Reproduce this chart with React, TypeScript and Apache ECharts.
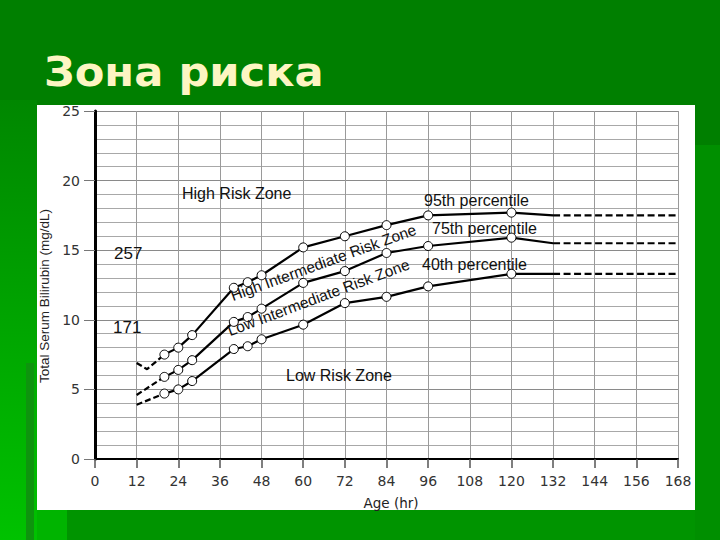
import React, { useEffect, useRef } from "react";
import * as echarts from "echarts";

// ---- data ----
const ageHours = [20, 24, 28, 40, 44, 48, 60, 72, 84, 96, 120];
const p95Values = [7.5, 8.0, 8.9, 12.3, 12.7, 13.2, 15.2, 16.0, 16.8, 17.5, 17.7];
const p75Values = [5.9, 6.4, 7.1, 9.85, 10.2, 10.8, 12.65, 13.5, 14.8, 15.3, 15.9];
const p40Values = [4.7, 5.0, 5.6, 7.9, 8.1, 8.6, 9.65, 11.2, 11.65, 12.4, 13.3];

const p95LeadHours = [12, 15, 20];
const p95LeadValues = [6.9, 6.45, 7.5];
const p75LeadHours = [12, 20];
const p75LeadValues = [4.6, 5.9];
const p40LeadHours = [12, 20];
const p40LeadValues = [3.9, 4.7];

const tailHours = [132, 168];
const p95TailValues = [17.5, 17.5];
const p75TailValues = [15.5, 15.5];
const p40TailValues = [13.3, 13.3];

const xMin = 0, xMax = 168, xStep = 12;
const yMin = 0, yMax = 25, yStep = 5;

const titleText = "Зона риска";
const yTitle = "Total Serum Bilirubin (mg/dL)";
const xTitle = "Age (hr)";

const GRID = { left: 95, right: 42, top: 111, bottom: 81 };

function pairs(h: number[], v: number[]) {
  return h.map((x, i) => [x, v[i]]);
}

function percentileSeries(name: string, vals: number[], leadH: number[], leadV: number[], tailV: number[]) {
  const lineStyle = { color: "#000", width: 2.2 };
  const solid = pairs(ageHours, vals).map((p) => ({ value: p }));
  (solid as any[]).push({ value: [tailHours[0], tailV[0]], symbol: "none" });
  return [
    {
      name: name + " lead",
      type: "line",
      data: pairs(leadH, leadV),
      showSymbol: false,
      symbol: "none",
      lineStyle: { ...lineStyle, type: [6, 3] },
      z: 3,
    },
    {
      name,
      type: "line",
      data: solid,
      symbol: "circle",
      symbolSize: 9,
      itemStyle: { color: "#fff", borderColor: "#000", borderWidth: 1 },
      lineStyle,
      z: 4,
    },
    {
      name: name + " tail",
      type: "line",
      data: pairs(tailHours, tailV),
      showSymbol: false,
      symbol: "none",
      lineStyle: { ...lineStyle, type: [7, 3.5] },
      z: 3,
    },
  ];
}

const lblFont = "'Liberation Sans', Arial, sans-serif";

function label(text: string, x: number, y: number, size = 16, rotationDeg = 0) {
  return {
    type: "text",
    x,
    y,
    rotation: (rotationDeg * Math.PI) / 180,
    z: 10,
    style: {
      text,
      fill: "#111",
      font: `${size}px ${lblFont}`,
      textAlign: "left",
      textVerticalAlign: "middle",
    },
  };
}

export default function App() {
  const ref = useRef<HTMLDivElement>(null);
  useEffect(() => {
    if (!ref.current) return;
    const chart = echarts.init(ref.current, undefined, { renderer: "svg" });
    const series = [
      ...percentileSeries("95th", p95Values, p95LeadHours, p95LeadValues, p95TailValues),
      ...percentileSeries("75th", p75Values, p75LeadHours, p75LeadValues, p75TailValues),
      ...percentileSeries("40th", p40Values, p40LeadHours, p40LeadValues, p40TailValues),
    ];
    chart.setOption({
      animation: false,
      backgroundColor: "transparent",
      grid: { ...GRID, containLabel: false },
      xAxis: {
        type: "value",
        min: xMin,
        max: xMax,
        interval: xStep,
        axisLine: { show: true, onZero: false, lineStyle: { color: "#000", width: 2 } },
        axisTick: { show: true, length: 9, lineStyle: { color: "#555", width: 1.5 } },
        axisLabel: { margin: 15, fontFamily: "'DejaVu Sans', sans-serif", fontSize: 14, color: "#333" },
        splitLine: { show: true, lineStyle: { color: "#9a9a9a", width: 1 } },
      },
      yAxis: {
        type: "value",
        min: yMin,
        max: yMax,
        interval: yStep,
        axisLine: { show: true, onZero: false, lineStyle: { color: "#000", width: 3 } },
        axisTick: { show: true, length: 11, lineStyle: { color: "#777", width: 1 } },
        axisLabel: { margin: 15, fontFamily: "'DejaVu Sans', sans-serif", fontSize: 14, color: "#333" },
        splitLine: { show: true, lineStyle: { color: "#8a8a8a", width: 1 } },
        minorTick: { show: false, splitNumber: 5 },
        minorSplitLine: { show: true, lineStyle: { color: "#a8a8a8", width: 1 } },
      },
      series,
      graphic: [
        {
          type: "text",
          x: 44,
          y: 72,
          scaleX: 1.08,
          z: 10,
          style: {
            text: titleText,
            fill: "#fdf5c2",
            font: "bold 40px 'DejaVu Sans', sans-serif",
            textAlign: "left",
            textVerticalAlign: "middle",
            shadowColor: "rgba(0,30,0,0.85)",
            shadowOffsetX: 2,
            shadowOffsetY: 2,
            shadowBlur: 2,
          },
        },
        {
          type: "text",
          x: 44,
          y: 296,
          rotation: Math.PI / 2,
          z: 10,
          style: {
            text: yTitle,
            fill: "#222",
            font: `13.5px ${lblFont}`,
            textAlign: "center",
            textVerticalAlign: "middle",
          },
        },
        {
          type: "text",
          x: 391,
          y: 503,
          z: 10,
          style: {
            text: xTitle,
            fill: "#222",
            font: "13.5px 'DejaVu Sans', sans-serif",
            textAlign: "center",
            textVerticalAlign: "middle",
          },
        },
        label("High Risk Zone", 182, 193.5),
        label("95th percentile", 424, 200.5),
        label("75th percentile", 432, 228.5),
        label("40th percentile", 422, 264.5),
        label("Low Risk Zone", 286, 375),
        label("High Intermediate Risk Zone", 231, 296, 15.5, 20),
        label("Low Intermediate Risk Zone", 228, 331, 15.5, 20.5),
        label("257", 114, 253, 17),
        label("171", 113, 327, 17),
      ],
    });
    return () => chart.dispose();
  }, []);

  const abs = (s: React.CSSProperties): React.CSSProperties => ({ position: "absolute", ...s });
  return (
    <div style={{ position: "fixed", left: 0, top: 0, width: 720, height: 540, background: "#007f00", overflow: "hidden" }}>
      <div style={abs({ left: 0, top: 100, width: 37, height: 440, background: "linear-gradient(#008700, #00c200)" })} />
      <div style={abs({ left: 26, top: 363, width: 8, height: 177, background: "#0e940e" })} />
      <div style={abs({ left: 37, top: 510, width: 30, height: 30, background: "#00b400" })} />
      <div style={abs({ left: 67, top: 510, width: 653, height: 30, background: "#009400" })} />
      <div style={abs({ left: 695, top: 145, width: 25, height: 395, background: "#008f00" })} />
      <div style={abs({ left: 37, top: 105, width: 658, height: 405, background: "#fff" })} />
      <div ref={ref} style={abs({ left: 0, top: 0, width: 720, height: 540 })} />
    </div>
  );
}
